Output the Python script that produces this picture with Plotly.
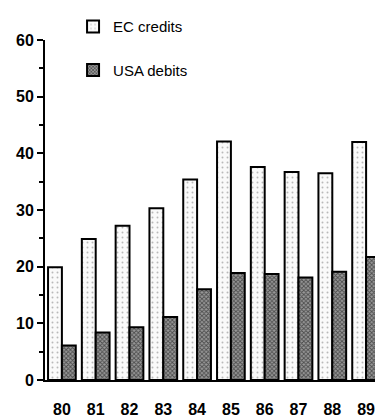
import plotly.graph_objects as go

years = ["80", "81", "82", "83", "84", "85", "86", "87", "88", "89"]
ec_credits = [19.9, 24.9, 27.2, 30.3, 35.4, 42.1, 37.6, 36.7, 36.5, 42.0]
usa_debits = [6.1, 8.4, 9.3, 11.1, 16.0, 18.9, 18.7, 18.1, 19.1, 21.7]
y_ticks = [0, 10, 20, 30, 40, 50, 60]

font = "Liberation Sans, Arial, sans-serif"

fig = go.Figure()
fig.add_trace(go.Bar(
    x=years, y=ec_credits, name="EC credits", legendgroup="a",
    marker=dict(color="white", line=dict(color="black", width=2),
                pattern=dict(shape=".", fgcolor="#777", bgcolor="#fafafa", size=5, solidity=0.12)),
))
fig.add_trace(go.Bar(
    x=years, y=usa_debits, name="USA debits", legendgroup="b",
    marker=dict(color="#555", line=dict(color="black", width=2),
                pattern=dict(shape="x", fgcolor="#000", bgcolor="#999", size=3, solidity=0.5)),
))

# page body has an 8px margin, so the figure is sized/positioned to compensate
fig.update_layout(
    width=375, height=411,
    margin=dict(l=37, r=0, t=32, b=39, autoexpand=False),
    paper_bgcolor="white", plot_bgcolor="white",
    barmode="group", bargap=0.18, bargroupgap=0.0,
    font=dict(family=font, color="black"),
    legend=dict(
        x=0.083, y=1.0875, xanchor="left", yanchor="top",
        font=dict(size=15, family=font), tracegroupgap=21,
        bgcolor="rgba(0,0,0,0)", itemwidth=30,
    ),
    showlegend=True,
)
fig.update_yaxes(
    range=[0, 60], tickvals=y_ticks, ticktext=[str(v) for v in y_ticks],
    showline=True, linecolor="black", linewidth=2,
    ticks="outside", ticklen=6, tickwidth=2, tickcolor="black",
    minor=dict(dtick=5, ticks="outside", ticklen=4, tickwidth=1.5, tickcolor="black"),
    showgrid=False, zeroline=False,
    tickfont=dict(size=16, family=font, weight="bold"),
)
fig.update_xaxes(
    range=[-0.5, 9.5], showline=True, linecolor="black", linewidth=2,
    ticks="", showgrid=False, ticklabelstandoff=14,
    tickfont=dict(size=16, family=font, weight="bold"),
)

fig.write_html("out.html")
